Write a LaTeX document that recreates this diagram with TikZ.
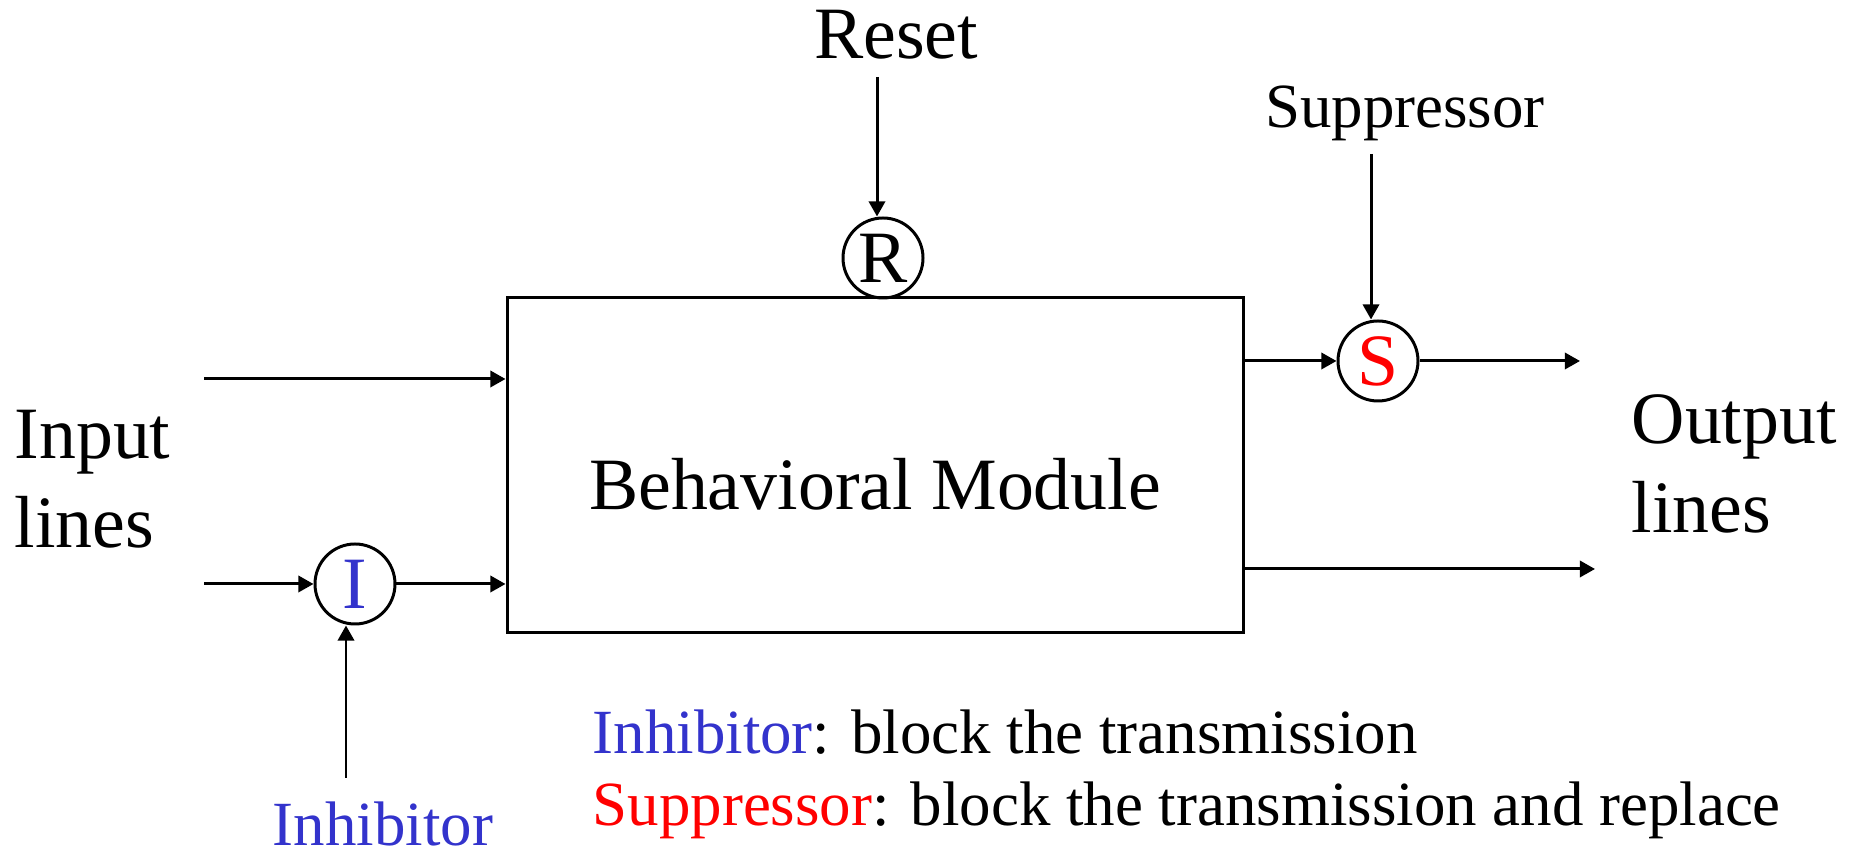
\documentclass[tikz,border=0pt]{standalone}
\usepackage{fontspec}
\setmainfont{Liberation Serif}
\usepackage{xcolor}
\usetikzlibrary{arrows.meta,positioning}
\definecolor{inhblue}{RGB}{51,51,204}
\definecolor{supred}{RGB}{255,0,0}

\begin{document}
\begin{tikzpicture}[
    sig/.style={black, line width=0.85pt, ->, >={Triangle[length=4.3pt,width=4.6pt]}},
    gate/.style={draw, circle, line width=0.85pt, minimum size=0.8cm, inner sep=0pt, font=\fontsize{21}{25}\selectfont},
    big/.style={font=\fontsize{21}{25.3}\selectfont, inner sep=0pt},
    small/.style={font=\fontsize{17.9}{20.5}\selectfont, inner sep=0pt}]
    \useasboundingbox (0,0) rectangle (18.56,8.52);
    % module and gates
    \node[draw, line width=0.85pt, minimum width=7.36cm, minimum height=3.35cm, big, text height=0.88cm, text depth=0pt] (module) at (8.75,3.865) {Behavioral Module};
    \node[gate] (rgate) at (8.83,5.94) {R};
    \node[gate, text=supred] (sgate) at (13.78,4.91) {S};
    \node[gate, text=inhblue] (igate) at (3.55,2.68) {I};
    % labels
    \node[big, anchor=base] (reset) at (8.96,7.93) {Reset};
    \node[small, anchor=base] (supp) at (14.05,7.24) {Suppressor};
    \node[small, anchor=base, text=inhblue] (inhib) at (3.83,0.06) {Inhibitor};
    \node[big, align=left, anchor=west] (inlines) at (0.14,3.73) {Input\\lines};
    \node[big, align=left, anchor=west] (outlines) at (16.31,3.88) {Output\\lines};
    \node[small, align=left, anchor=south west] (legend) at (5.92,0.12) {\textcolor{inhblue}{Inhibitor}: block the transmission\\\textcolor{supred}{Suppressor}: block the transmission and replace};
    % free ends
    \coordinate (in1) at (2.04,4.73);
    \coordinate (in2) at (2.04,2.68);
    \coordinate (out1) at (15.80,4.91);
    \coordinate (out2) at (15.95,2.83);
    \coordinate (rsrc) at (8.77,7.75);
    \coordinate (ssrc) at (13.71,6.98);
    \coordinate (isrc) at (3.46,0.74);
    % signal lines
    \draw[sig] (in1) -- (in1 -| module.west);
    \draw[sig] (in2) -- (igate);
    \draw[sig] (igate) -- (igate -| module.west);
    \draw[sig] (isrc) -- (isrc |- igate.south);
    \draw[sig] (rsrc) -- (rsrc |- rgate.north);
    \draw[sig] (ssrc) -- (ssrc |- sgate.north);
    \draw[sig] (sgate -| module.east) -- (sgate);
    \draw[sig] (sgate) -- (out1);
    \draw[sig] (out2 -| module.east) -- (out2);
\end{tikzpicture}
\end{document}
